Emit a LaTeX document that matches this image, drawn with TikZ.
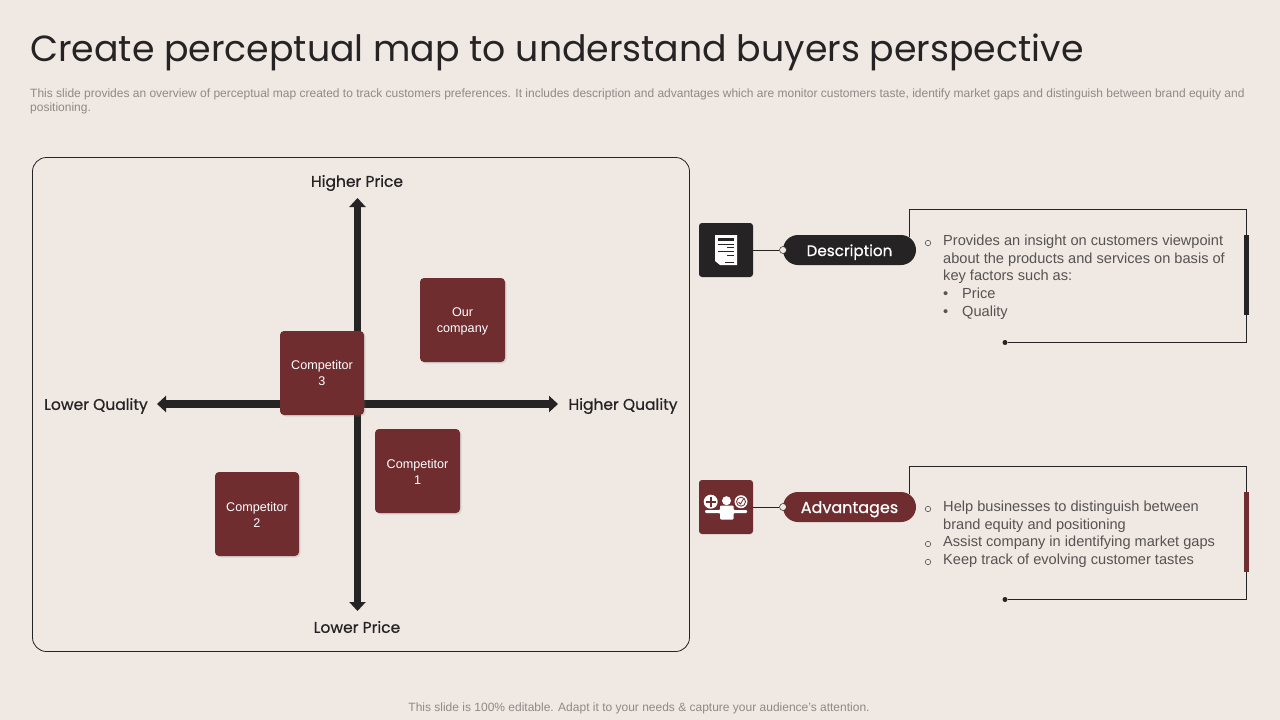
\documentclass[tikz,border=0pt]{standalone}
\usepackage{fontspec}
\setmainfont{Liberation Sans}
\newfontfamily\titlefont{Poppins}
\newfontfamily\labelfont[FakeBold=0.6]{Poppins}
\usetikzlibrary{arrows.meta,shadows}
\definecolor{pagebg}{HTML}{EFE8E3}
\definecolor{inkdark}{HTML}{262324}
\definecolor{maroon}{HTML}{6F2D30}
\definecolor{bodygrey}{HTML}{565352}
\definecolor{notegrey}{HTML}{8F8A88}
\tikzset{
  mapcard/.style={fill=maroon, rounded corners=4pt, minimum width=85pt, minimum height=84pt, inner sep=0pt,
    text=white, font=\fontsize{12.6}{16}\selectfont, align=center, drop shadow={opacity=.18, shadow xshift=1.5pt, shadow yshift=-1.5pt}},
  axislabel/.style={text=inkdark, font=\labelfont\fontsize{15.5}{18}\selectfont},
  axisline/.style={draw=inkdark, line width=7.5pt, {Triangle[length=9pt,width=16pt]}-{Triangle[length=9pt,width=16pt]}},
  iconbox/.style={rounded corners=3pt, minimum width=54pt, minimum height=54pt, inner sep=0pt},
  pilltag/.style={rounded corners=15pt, minimum width=133pt, minimum height=30pt, inner sep=0pt, text=white, text height=14pt, text depth=2pt},
  joinline/.style={draw=inkdark, line width=.8pt},
  joindot/.style={circle, draw=inkdark, fill=pagebg, line width=.5pt, minimum size=7pt, inner sep=0pt},
  framedot/.style={circle, fill=inkdark, minimum size=5pt, inner sep=0pt},
  sidebar/.style={minimum width=5pt, inner sep=0pt},
  bodytext/.style={anchor=north west, inner sep=0pt, align=left, text=bodygrey, font=\fontsize{14.6}{17.75}\selectfont},
  ringbullet/.style={circle, draw=bodygrey, line width=.6pt, minimum size=5.5pt, inner sep=0pt},
}
\begin{document}
\begin{tikzpicture}[x=1pt,y=-1pt]
  \useasboundingbox[fill=pagebg] (0,0) rectangle (1280,720);
  % heading
  \node (heading) [anchor=west, inner sep=0pt, text=inkdark, font=\titlefont\fontsize{36.3}{40}\selectfont] at (30,52)
    {Create perceptual map to understand buyers perspective};
  \node (overview) [anchor=north west, inner sep=0pt, align=left, text=notegrey, font=\fontsize{12}{14}\selectfont] at (30,89)
    {This slide provides an overview of perceptual map created to track customers preferences. It includes description and advantages which are monitor customers taste, identify market gaps and distinguish between brand equity and\\positioning.};
  % map
  \node (mapframe) [draw=inkdark, line width=.8pt, rounded corners=14pt, minimum width=657pt, minimum height=494pt, inner sep=0pt] at (361,404.5) {};
  \node (higher price) [axislabel] at (357,183) {Higher Price};
  \node (lower price) [axislabel] at (357,627) {Lower Price};
  \node (lower quality) [axislabel] at (96,406) {Lower Quality};
  \node (higher quality) [axislabel] at (623,406) {Higher Quality};
  \coordinate (price top) at (357.5,198);
  \coordinate (price bottom) at (357.5,611);
  \coordinate (quality left) at (157,404);
  \coordinate (quality right) at (558,404);
  \draw[axisline] (price top) -- (price bottom);
  \draw[axisline] (quality left) -- (quality right);
  \node (our company) [mapcard] at (462.5,320) {\rule{0pt}{12.2pt}Our\\company};
  \node (competitor 3) [mapcard, minimum width=84pt] at (322,373) {Competitor\\3};
  \node (competitor 1) [mapcard] at (417.5,471) {\rule{0pt}{11.2pt}Competitor\\1};
  \node (competitor 2) [mapcard, minimum width=84pt] at (257,514) {\rule{0pt}{11.2pt}Competitor\\2};
  % description
  \node (desc icon) [iconbox, fill=inkdark] at (726,250) {};
  \fill[white] (715,235) -- (737,235) -- (737,265) -- (720,265) -- (715,261) -- cycle;
  \fill[inkdark] (718,238) rectangle (734,241);
  \draw[inkdark, line width=.7pt] (718,244) -- (734,244) (727,247.5) -- (734,247.5) (718,251) -- (734,251) (727,255) -- (734,255) (725,262) -- (734,262);
  \node (desc tag) [pilltag, fill=inkdark, font=\labelfont\fontsize{15.2}{18}\selectfont] at (849.5,250) {Description};
  \node (desc dot) [joindot] at (783,250) {};
  \draw[joinline] (desc icon) -- (desc dot);
  \coordinate (desc start) at (909.5,237);
  \coordinate (desc corner a) at (909.5,209.5);
  \coordinate (desc corner b) at (1246.5,209.5);
  \coordinate (desc corner c) at (1246.5,342.5);
  \node (desc end) [framedot] at (1005,342.5) {};
  \draw[joinline] (desc start) -- (desc corner a) -- (desc corner b) -- (desc corner c) -- (desc end);
  \node (desc bar) [sidebar, fill=inkdark, minimum height=80pt] at (1246,275) {};
  \node (desc ring) [ringbullet] at (928,243) {};
  \node (desc text) [bodytext] at (943,234.5)
    {Provides an insight on customers viewpoint\\about the products and services on basis of\\key factors such as:\\\makebox[19pt][l]{•}Price\\\makebox[19pt][l]{•}Quality};
  % advantages
  \node (adv icon) [iconbox, fill=maroon] at (726,507) {};
  \fill[white] (710.7,501.7) circle (7pt);
  \draw[maroon, line width=1.6pt] (710.7,496.7) -- (710.7,506.7) (705.7,501.7) -- (715.7,501.7);
  \fill[white] (726.5,500.7) circle (4.5pt);
  \fill[white] (741,501.7) circle (6.5pt);
  \draw[maroon, line width=.8pt] (741,501.7) circle (4.5pt);
  \draw[maroon, line width=.8pt] (738.5,502) -- (740.5,504) -- (743.5,499);
  \fill[white, rounded corners=1pt] (705,510) -- (720,510) -- (720,505.5) -- (733.5,505.5) -- (733.5,510) -- (747,510) -- (747,513) -- (733.5,513) -- (733.5,519.5) -- (720,519.5) -- (720,513) -- (705,513) -- cycle;
  \node (adv tag) [pilltag, fill=maroon, font=\labelfont\fontsize{16}{18}\selectfont] at (849.5,507) {Advantages};
  \node (adv dot) [joindot] at (783,507) {};
  \draw[joinline] (adv icon) -- (adv dot);
  \coordinate (adv start) at (909.5,494);
  \coordinate (adv corner a) at (909.5,466.5);
  \coordinate (adv corner b) at (1246.5,466.5);
  \coordinate (adv corner c) at (1246.5,599.5);
  \node (adv end) [framedot] at (1005,599.5) {};
  \draw[joinline] (adv start) -- (adv corner a) -- (adv corner b) -- (adv corner c) -- (adv end);
  \node (adv bar) [sidebar, fill=maroon, minimum height=80pt] at (1246,532) {};
  \node (adv ring a) [ringbullet] at (928,509) {};
  \node (adv ring b) [ringbullet] at (928,544) {};
  \node (adv ring c) [ringbullet] at (928,562) {};
  \node (adv text) [bodytext] at (943,500.5)
    {Help businesses to distinguish between\\brand equity and positioning\\Assist company in identifying market gaps\\Keep track of evolving customer tastes};
  % footer
  \node (footer) [inner sep=0pt, text=notegrey, font=\fontsize{12}{14}\selectfont] at (639,708.5)
    {This slide is 100\% editable. Adapt it to your needs \& capture your audience’s attention.};
\end{tikzpicture}
\end{document}
